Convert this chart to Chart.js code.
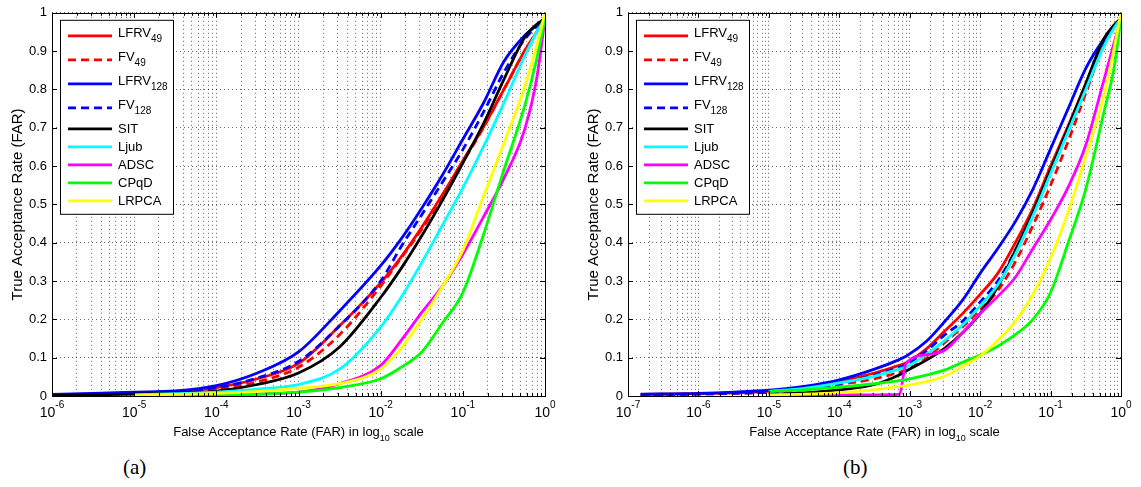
<!DOCTYPE html>
<html>
<head>
<meta charset="utf-8">
<script src="https://cdn.jsdelivr.net/npm/chart.js@4.4.0/dist/chart.umd.min.js"></script>
<style>
  html, body { margin: 0; padding: 0; background: #fff; }
  body { width: 1141px; height: 487px; position: relative; overflow: hidden; }
  .panel { position: absolute; top: 0; width: 560px; height: 445px; }
  .caption { position: absolute; top: 455px; line-height: 24px; font-family: "Liberation Serif", "Times New Roman", serif; font-size: 21px; color: #000; }
</style>
</head>
<body>
<div class="panel" style="left:0"><canvas id="chartA" width="560" height="445"></canvas></div>
<div class="panel" style="left:576px"><canvas id="chartB" width="560" height="445"></canvas></div>
<div class="caption" style="left:123px">(a)</div>
<div class="caption" style="left:843px">(b)</div>
<script>
const FONT = '"Liberation Sans", Arial, Helvetica, sans-serif';

// legend entries (name + subscript)
const seriesNames = ['LFRV', 'FV', 'LFRV', 'FV', 'SIT', 'Ljub', 'ADSC', 'CPqD', 'LRPCA'];
const seriesSubs = ['49', '49', '128', '128', '', '', '', '', ''];
const seriesColors = ['#ff0000', '#ff0000', '#0000ff', '#0000ff', '#000000', '#00ffff', '#ff00ff', '#00ff00', '#ffff00'];
const seriesDashed = [false, true, false, true, false, false, false, false, false];

// (a) FAR as log10 exponent, TAR per method
const logFarA = [-6, -5.5, -5, -4.5, -4, -3.5, -3, -2.5, -2, -1.75, -1.5, -1.25, -1, -0.75, -0.5, -0.25, -0.1, 0];
const lfrv49A  = [0.003, 0.005, 0.008, 0.012, 0.022, 0.045, 0.085, 0.183, 0.295, 0.363, 0.44, 0.525, 0.614, 0.702, 0.8, 0.9, 0.95, 0.985];
const fv49A    = [0.002, 0.004, 0.007, 0.01, 0.018, 0.037, 0.075, 0.16, 0.287, 0.36, 0.435, 0.52, 0.61, 0.7, 0.8, 0.9, 0.95, 0.985];
const lfrv128A = [0.004, 0.007, 0.01, 0.013, 0.027, 0.06, 0.115, 0.222, 0.34, 0.41, 0.49, 0.576, 0.67, 0.764, 0.873, 0.94, 0.968, 0.985];
const fv128A   = [0.003, 0.005, 0.008, 0.012, 0.022, 0.047, 0.09, 0.183, 0.3, 0.39, 0.473, 0.557, 0.643, 0.74, 0.845, 0.93, 0.965, 0.985];
const sitA     = [0.002, 0.003, 0.005, 0.008, 0.013, 0.03, 0.06, 0.128, 0.257, 0.333, 0.418, 0.51, 0.608, 0.71, 0.826, 0.935, 0.97, 0.985];
const ljubA    = [null, null, 0.003, 0.006, 0.01, 0.018, 0.03, 0.07, 0.18, 0.258, 0.348, 0.445, 0.543, 0.65, 0.765, 0.886, 0.95, 0.985];
const adscA    = [null, null, 0.001, 0.002, 0.003, 0.005, 0.01, 0.032, 0.08, 0.145, 0.218, 0.286, 0.37, 0.467, 0.568, 0.694, 0.83, 0.985];
const cpqdA    = [null, null, 0.001, 0.002, 0.003, 0.005, 0.01, 0.022, 0.045, 0.075, 0.115, 0.19, 0.27, 0.42, 0.59, 0.755, 0.88, 0.985];
const lrpcaA   = [null, null, 0.002, 0.004, 0.007, 0.012, 0.02, 0.032, 0.07, 0.125, 0.2, 0.285, 0.38, 0.52, 0.66, 0.805, 0.915, 1.0];

// (b)
const logFarB = [-6.82, -6, -5.5, -5, -4.5, -4, -3.5, -3.15, -3.05, -2.75, -2.5, -2.25, -2, -1.75, -1.5, -1.25, -1, -0.75, -0.5, -0.25, -0.1, 0];
const lfrv49B  = [0.004, 0.006, 0.008, 0.012, 0.022, 0.038, 0.06, 0.08, 0.087, 0.125, 0.17, 0.215, 0.265, 0.32, 0.4, 0.49, 0.6, 0.705, 0.815, 0.925, 0.965, 0.985];
const fv49B    = [0.003, 0.005, 0.007, 0.01, 0.017, 0.03, 0.045, 0.062, 0.068, 0.1, 0.14, 0.18, 0.225, 0.275, 0.35, 0.445, 0.55, 0.665, 0.79, 0.915, 0.962, 0.985];
const lfrv128B = [0.005, 0.007, 0.01, 0.015, 0.025, 0.042, 0.07, 0.095, 0.104, 0.145, 0.195, 0.25, 0.32, 0.385, 0.455, 0.54, 0.645, 0.75, 0.855, 0.93, 0.965, 0.985];
const fv128B   = [0.003, 0.005, 0.007, 0.01, 0.018, 0.032, 0.055, 0.075, 0.082, 0.12, 0.16, 0.195, 0.245, 0.3, 0.38, 0.475, 0.59, 0.7, 0.81, 0.92, 0.962, 0.985];
const sitB     = [null, null, null, 0.004, 0.008, 0.016, 0.03, 0.055, 0.065, 0.095, 0.125, 0.165, 0.215, 0.285, 0.38, 0.48, 0.59, 0.7, 0.815, 0.93, 0.968, 0.985];
const ljubB    = [null, null, null, 0.012, 0.02, 0.034, 0.052, 0.07, 0.076, 0.11, 0.145, 0.185, 0.235, 0.29, 0.37, 0.47, 0.58, 0.69, 0.8, 0.91, 0.96, 0.985];
const adscB    = [null, null, null, 0.003, 0.003, 0.003, 0.003, 0.004, 0.085, 0.108, 0.12, 0.165, 0.215, 0.26, 0.31, 0.385, 0.46, 0.545, 0.655, 0.82, 0.92, 0.985];
const cpqdB    = [null, null, null, 0.012, 0.016, 0.023, 0.032, 0.04, 0.043, 0.055, 0.068, 0.088, 0.107, 0.13, 0.16, 0.2, 0.27, 0.4, 0.54, 0.735, 0.855, 0.985];
const lrpcaB   = [null, null, null, 0.003, 0.005, 0.009, 0.016, 0.025, 0.027, 0.038, 0.052, 0.077, 0.105, 0.145, 0.195, 0.265, 0.36, 0.48, 0.625, 0.78, 0.905, 1.0];

const tarA = [lfrv49A, fv49A, lfrv128A, fv128A, sitA, ljubA, adscA, cpqdA, lrpcaA];
const tarB = [lfrv49B, fv49B, lfrv128B, fv128B, sitB, ljubB, adscB, cpqdB, lrpcaB];

const gridColor = 'rgba(0,0,0,0.6)';

// box, inner ticks, 10^n labels, x title
const matlabAxes = {
  id: 'matlabAxes',
  afterDraw(chart) {
    const { ctx, chartArea: a } = chart;
    const xs = chart.scales.x, ys = chart.scales.y;
    ctx.save();
    ctx.setLineDash([]);
    ctx.strokeStyle = '#000';
    ctx.lineWidth = 1;
    ctx.beginPath();
    xs.ticks.forEach(t => {
      const px = Math.round(xs.getPixelForValue(t.value)) + 0.5;
      const lg = Math.log10(t.value);
      const len = Math.abs(lg - Math.round(lg)) < 1e-6 ? 5 : 3;
      ctx.moveTo(px, a.bottom); ctx.lineTo(px, a.bottom - len);
      ctx.moveTo(px, a.top); ctx.lineTo(px, a.top + len);
    });
    ys.ticks.forEach(t => {
      const py = Math.round(ys.getPixelForValue(t.value)) + 0.5;
      ctx.moveTo(a.left, py); ctx.lineTo(a.left + 5, py);
      ctx.moveTo(a.right, py); ctx.lineTo(a.right - 5, py);
    });
    ctx.stroke();
    ctx.strokeRect(Math.round(a.left) + 0.5, Math.round(a.top) + 0.5,
      Math.round(a.right - a.left), Math.round(a.bottom - a.top));

    ctx.fillStyle = '#000';
    ctx.textAlign = 'left';
    ctx.textBaseline = 'alphabetic';
    const minExp = Math.round(Math.log10(xs.min));
    for (let e = minExp; e <= 0; e++) {
      const px = xs.getPixelForValue(Math.pow(10, e));
      ctx.font = '14px ' + FONT;
      const w1 = ctx.measureText('10').width;
      ctx.font = '10px ' + FONT;
      const w2 = ctx.measureText(String(e)).width;
      const x0 = px - (w1 + w2) / 2;
      ctx.font = '14px ' + FONT;
      ctx.fillText('10', x0, a.bottom + 21);
      ctx.font = '10px ' + FONT;
      ctx.fillText(String(e), x0 + w1, a.bottom + 12);
    }

    const parts = [['False Acceptance Rate (FAR) in log', 13, 0], ['10', 9, 5], [' scale', 13, 0]];
    let total = 0;
    parts.forEach(p => { ctx.font = p[1] + 'px ' + FONT; total += ctx.measureText(p[0]).width; });
    let tx = (a.left + a.right) / 2 - total / 2;
    parts.forEach(p => {
      ctx.font = p[1] + 'px ' + FONT;
      ctx.fillText(p[0], tx, a.bottom + 40 + p[2]);
      tx += ctx.measureText(p[0]).width;
    });
    ctx.restore();
  }
};

const legendBox = {
  id: 'legendBox',
  afterDatasetsDraw(chart) {
    const { ctx, chartArea } = chart;
    const items = chart.data.datasets;
    const x0 = chartArea.left + 8, y0 = chartArea.top + 7;
    const w = 113;
    let h = 8;
    items.forEach(d => { h += d.sub ? 24 : 18; });
    ctx.save();
    ctx.fillStyle = '#fff';
    ctx.fillRect(x0, y0, w, h);
    ctx.strokeStyle = '#000';
    ctx.lineWidth = 1;
    ctx.setLineDash([]);
    ctx.strokeRect(x0 + 0.5, y0 + 0.5, w, h);
    let y = y0 + 4;
    items.forEach(d => {
      const ih = d.sub ? 24 : 18;
      const cy = y + ih / 2;
      ctx.strokeStyle = d.borderColor;
      ctx.lineWidth = 2.8;
      ctx.setLineDash(d.borderDash || []);
      ctx.beginPath();
      ctx.moveTo(x0 + 8, cy);
      ctx.lineTo(x0 + 52, cy);
      ctx.stroke();
      ctx.setLineDash([]);
      ctx.fillStyle = '#000';
      ctx.textAlign = 'left';
      ctx.textBaseline = 'alphabetic';
      ctx.font = '13px ' + FONT;
      const tx = x0 + 58;
      ctx.fillText(d.label, tx, cy + (d.sub ? 1 : 4.5));
      if (d.sub) {
        const wMain = ctx.measureText(d.label).width;
        ctx.font = '10px ' + FONT;
        ctx.fillText(d.sub, tx + wMain, cy + 6.5);
      }
      y += ih;
    });
    ctx.restore();
  }
};

function buildDatasets(logFar, tars) {
  return tars.map((vals, i) => ({
    label: seriesNames[i],
    sub: seriesSubs[i],
    data: logFar.map((e, k) => ({ x: Math.pow(10, e), y: vals[k] })).filter(p => p.y !== null),
    borderColor: seriesColors[i],
    backgroundColor: seriesColors[i],
    borderWidth: 2.8,
    borderDash: seriesDashed[i] ? [8, 5] : [],
    pointRadius: 0,
    fill: false,
    cubicInterpolationMode: 'monotone',
    order: tars.length - i
  }));
}

function makeChart(id, logFar, tars, minExp) {
  const xGrid = [];
  for (let e = minExp; e < 0; e++) {
    for (let m = 1; m <= 9; m++) xGrid.push(m * Math.pow(10, e));
  }
  xGrid.push(1);
  return new Chart(document.getElementById(id), {
    type: 'line',
    data: { datasets: buildDatasets(logFar, tars) },
    options: {
      responsive: false,
      animation: false,
      layout: { padding: { left: 0, right: 15, top: 8, bottom: 0 } },
      plugins: { legend: { display: false }, tooltip: { enabled: false } },
      scales: {
        x: {
          type: 'logarithmic',
          min: Math.pow(10, minExp),
          max: 1,
          afterBuildTicks: s => { s.ticks = xGrid.map(v => ({ value: v })); },
          afterFit: s => { s.height = 49; },
          ticks: { display: false },
          grid: { color: gridColor, lineWidth: 1, drawTicks: false },
          border: { display: false, dash: [1, 3] }
        },
        y: {
          min: 0,
          max: 1,
          afterFit: s => { s.width = 52; },
          ticks: {
            stepSize: 0.1,
            color: '#000',
            padding: 5,
            font: { family: FONT, size: 13 },
            callback: v => String(Math.round(v * 10) / 10)
          },
          grid: { color: gridColor, lineWidth: 1, drawTicks: false },
          border: { display: false, dash: [1, 3] },
          title: {
            display: true,
            text: 'True Acceptance Rate (FAR)',
            color: '#000',
            font: { family: FONT, size: 15 },
            padding: { top: 9, bottom: 0 }
          }
        }
      }
    },
    plugins: [legendBox, matlabAxes]
  });
}

makeChart('chartA', logFarA, tarA, -6);
makeChart('chartB', logFarB, tarB, -7);
</script>
</body>
</html>
